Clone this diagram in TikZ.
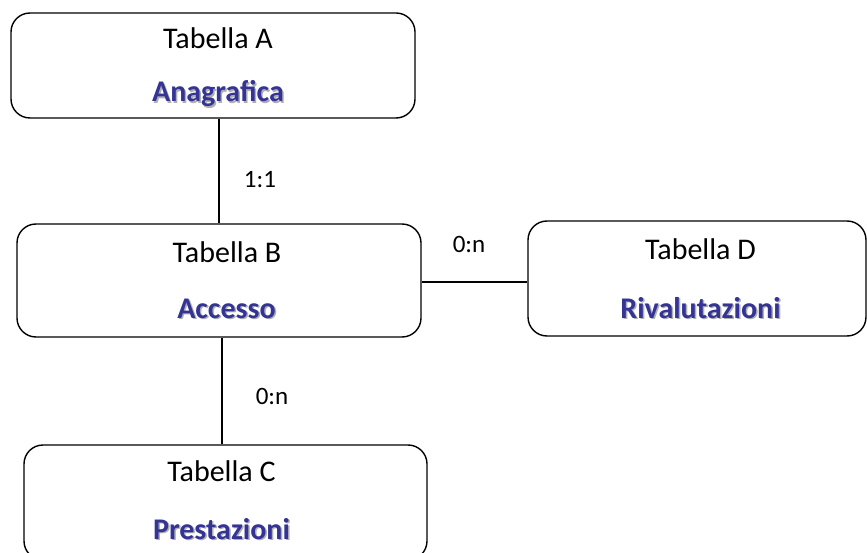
\documentclass[tikz,border=0pt]{standalone}
\usepackage{fontspec}
\setmainfont{Carlito}
\definecolor{titleblue}{RGB}{52,52,150}
\definecolor{shadowgray}{RGB}{175,175,175}
\begin{document}
\begin{tikzpicture}[x=1pt,y=-1pt,
  tbl/.style={draw=black,line width=1.4pt,rounded corners=19pt,inner sep=0pt},
  ttl/.style={font=\fontsize{30}{35}\selectfont,anchor=base,inner sep=0pt},
  sub/.style={font=\bfseries\fontsize{30}{35}\selectfont,anchor=base,inner sep=0pt,text=titleblue},
  subshadow/.style={font=\bfseries\fontsize{30}{35}\selectfont,anchor=base,inner sep=0pt,text=shadowgray},
  card/.style={font=\fontsize{25}{30}\selectfont,inner sep=0pt},
  conn/.style={draw=black,line width=1.4pt}]
\clip (0,0) rectangle (867,553);
\useasboundingbox (0,0) rectangle (867,553);
% boxes
\node[tbl,minimum width=404pt,minimum height=105pt] (A) at (213,65.5) {};
\node[tbl,minimum width=404pt,minimum height=113pt] (B) at (219,280.5) {};
\node[tbl,minimum width=403pt,minimum height=115pt] (C) at (225.5,502.5) {};
\node[tbl,minimum width=338pt,minimum height=115pt] (D) at (697,278.5) {};
% titles
\node[ttl] (At) at (218,49) {Tabella A};
\node[ttl] (Bt) at (227,263) {Tabella B};
\node[ttl] (Ct) at (221.5,481) {Tabella C};
\node[ttl] (Dt) at (700.5,260) {Tabella D};
% subtitles with shadow
\node[subshadow] (As) at (219.5,103.5) {Anagrafica};
\node[sub] (Aa) at (218,102) {Anagrafica};
\node[subshadow] (Bs) at (228,319.5) {Accesso};
\node[sub] (Ba) at (226.5,318) {Accesso};
\node[subshadow] (Cs) at (223,540.5) {Prestazioni};
\node[sub] (Ca) at (221.5,539) {Prestazioni};
\node[subshadow] (Ds) at (702,319.5) {Rivalutazioni};
\node[sub] (Da) at (700.5,318) {Rivalutazioni};
% connectors
\draw[conn] (A.south -| B.north) -- (B.north);
\draw[conn] ([xshift=3pt]B.south) -- ([xshift=3pt]B.south |- C.north);
\draw[conn] ([yshift=-1.5pt]B.east) -- ([yshift=-1.5pt]B.east -| D.west);
% cardinalities
\node[card] (L1) at (260,180) {1:1};
\node[card] (L2) at (272,396) {0:n};
\node[card] (L3) at (469,244) {0:n};
\end{tikzpicture}
\end{document}
